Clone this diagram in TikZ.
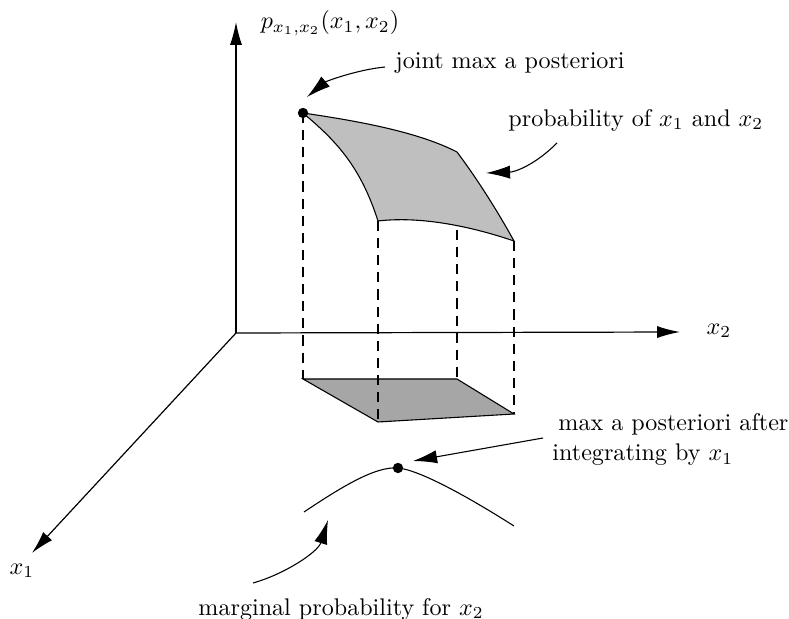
\documentclass[tikz,border=0pt]{standalone}
\usetikzlibrary{arrows.meta}
\begin{document}
\begin{tikzpicture}[x=0.415pt,y=-0.415pt,
  axis/.style={line width=0.5pt,-{Latex[length=9.5pt,width=5pt]}},
  callout/.style={line width=0.45pt,-{Latex[length=10pt,width=5.5pt]}},
  edge/.style={line width=0.45pt},
  drop/.style={line width=0.45pt,dash pattern=on 4.2pt off 2.9pt},
  dot/.style={circle,fill=black,inner sep=0pt,minimum size=4.3pt},
  lbl/.style={inner sep=0pt}]
\useasboundingbox (0,0) rectangle (789,619);
% axes
\coordinate (O) at (236,333);
\coordinate (Zt) at (236,22);
\coordinate (X2t) at (680,332);
\coordinate (X1t) at (32,553);
\draw[axis] (O) -- (Zt);
\draw[axis] (O) -- (X2t);
\draw[axis] (O) -- (X1t);
\node[lbl] (pl) at (330,23) {$p_{x_1,x_2}(x_1,x_2)$};
\node[lbl] (x2l) at (719,331) {$x_2$};
\node[lbl] (x1l) at (22,571) {$x_1$};
% surface corners
\coordinate (A) at (303,113);
\coordinate (B) at (457,152);
\coordinate (C) at (514,241);
\coordinate (D) at (378,221);
\coordinate (Bm) at (457,230);
% floor corners
\coordinate (E) at (303,379);
\coordinate (F) at (457,379);
\coordinate (G) at (514,414);
\coordinate (H) at (378,422);
\filldraw[edge,fill=black!35] (E) -- (F) -- (G) -- (H) -- cycle;
\filldraw[edge,fill=black!25] (A) .. controls (365,122) and (420,133) .. (B)
  .. controls (478,180) and (498,212) .. (C)
  .. controls (470,226) and (420,216) .. (D)
  .. controls (360,165) and (335,140) .. (A) -- cycle;
\draw[drop] (A) -- (E);
\draw[drop] (D) -- (H);
\draw[drop] (Bm) -- (F);
\draw[drop] (C) -- (G);
\node[dot] (top) at (A) {};
% marginal curve
\coordinate (L) at (304,512);
\coordinate (R) at (514,526);
\node[dot] (peak) at (398,468) {};
\draw[edge] (L) .. controls (340,488) and (375,466) .. (peak.center)
  .. controls (420,470) and (470,498) .. (R);
% labels
\node[lbl,anchor=west] (jl) at (395,63) {joint max a posteriori};
\node[lbl,anchor=west] (prl) at (508,120) {probability of $x_1$ and $x_2$};
\node[lbl,anchor=west] (ml1) at (558,424) {max a posteriori after};
\node[lbl,anchor=west] (ml2) at (552,455) {integrating by $x_1$};
\node[lbl,anchor=west] (mgl) at (198,609) {marginal probability for $x_2$};
% callouts
\coordinate (j0) at (385,67);
\coordinate (j1) at (307,97);
\draw[callout] (j0) .. controls (355,70) and (325,82) .. (j1);
\coordinate (p0) at (557,143);
\coordinate (p1) at (486,173);
\draw[callout] (p0) .. controls (535,165) and (515,172) .. (p1);
\coordinate (m0) at (543,438);
\coordinate (m1) at (413,461);
\draw[callout] (m0) -- (m1);
\coordinate (g0) at (253,583);
\coordinate (g1) at (328,520);
\draw[callout] (g0) .. controls (285,574) and (318,552) .. (g1);
\end{tikzpicture}
\end{document}
